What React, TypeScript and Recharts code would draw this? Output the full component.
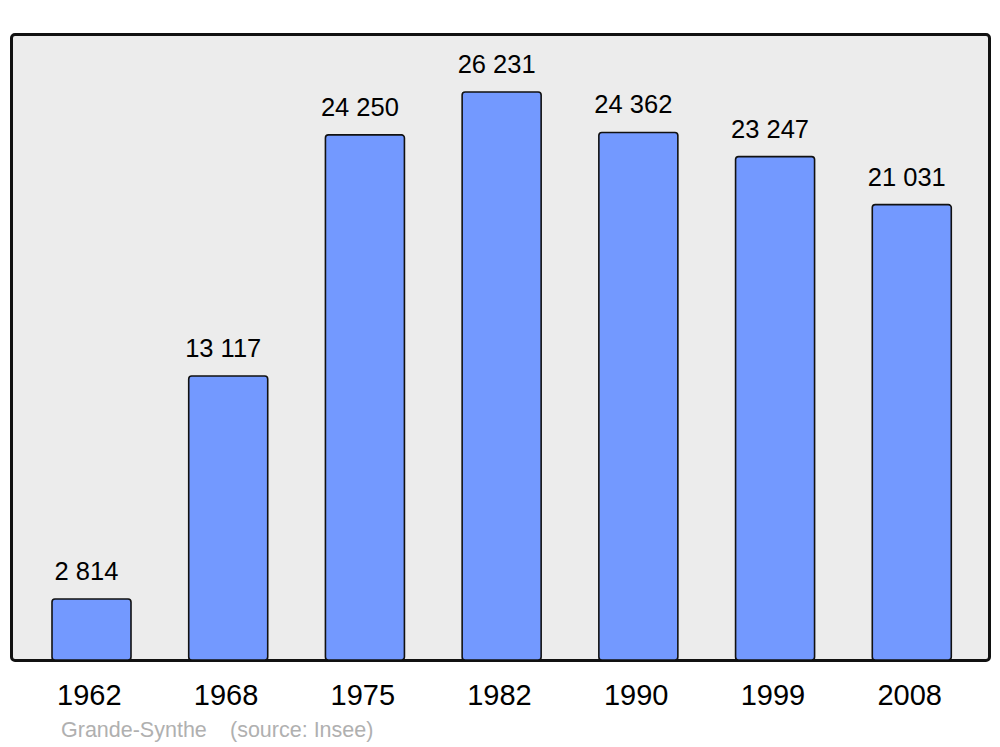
import { BarChart, Bar, XAxis, YAxis, LabelList } from "recharts";

const years = ["1962", "1968", "1975", "1982", "1990", "1999", "2008"];
const population = [2814, 13117, 24250, 26231, 24362, 23247, 21031];

const data = years.map((year, i) => ({ year, population: population[i] }));

const FONT = '"Liberation Sans", Arial, sans-serif';

// plot area = the grey panel
const PANEL = { left: 11, top: 34, width: 978, height: 626 };

const fmt = (v: number) => String(v).replace(/\B(?=(\d{3})+(?!\d))/g, " ");

const YearTick = ({ x, y, payload }: { x?: number; y?: number; payload?: { value: string } }) => (
  <text
    x={(x ?? 0) - 2}
    y={(y ?? 0) + 37}
    textAnchor="middle"
    fontSize={29}
    fontFamily={FONT}
    fill="#000"
  >
    {payload?.value}
  </text>
);

const footer = {
  position: "absolute" as const,
  top: 718,
  fontFamily: FONT,
  fontSize: 21.5,
  color: "#b0b0b0",
  whiteSpace: "pre" as const,
};

export default function App() {
  return (
    <div style={{ position: "absolute", left: 0, top: 0, width: 1000, height: 747, background: "#fff" }}>
      <div
        style={{
          position: "absolute",
          left: PANEL.left - 1.5,
          top: PANEL.top - 1.5,
          width: PANEL.width + 3,
          height: PANEL.height + 3,
          boxSizing: "border-box",
          border: "3px solid #111",
          borderRadius: 5,
          background: "#ececec",
        }}
      />
      <div style={{ position: "absolute", left: 0, top: 0 }}>
        <BarChart
          width={1000}
          height={747}
          data={data}
          margin={{ top: PANEL.top, left: PANEL.left, right: 1000 - PANEL.left - PANEL.width, bottom: 747 - PANEL.top - PANEL.height - 30 }}
        >
          <XAxis
            dataKey="year"
            height={30}
            axisLine={false}
            tickLine={false}
            padding={{ left: 12, right: 9 }}
            tick={<YearTick />}
            interval={0}
          />
          <YAxis hide domain={[0, 28909]} />
          <Bar
            dataKey="population"
            barSize={79}
            fill="#7399ff"
            stroke="#111"
            strokeWidth={1.6}
            radius={3}
            isAnimationActive={false}
          >
            <LabelList
              dataKey="population"
              position="top"
              offset={19}
              dx={-5}
              formatter={(v: unknown) => fmt(Number(v))}
              style={{ fontSize: 25.5, fontFamily: FONT, fill: "#000" }}
            />
          </Bar>
        </BarChart>
      </div>
      <div style={{ ...footer, left: 61 }}>Grande-Synthe</div>
      <div style={{ ...footer, left: 230 }}>(source: Insee)</div>
    </div>
  );
}
